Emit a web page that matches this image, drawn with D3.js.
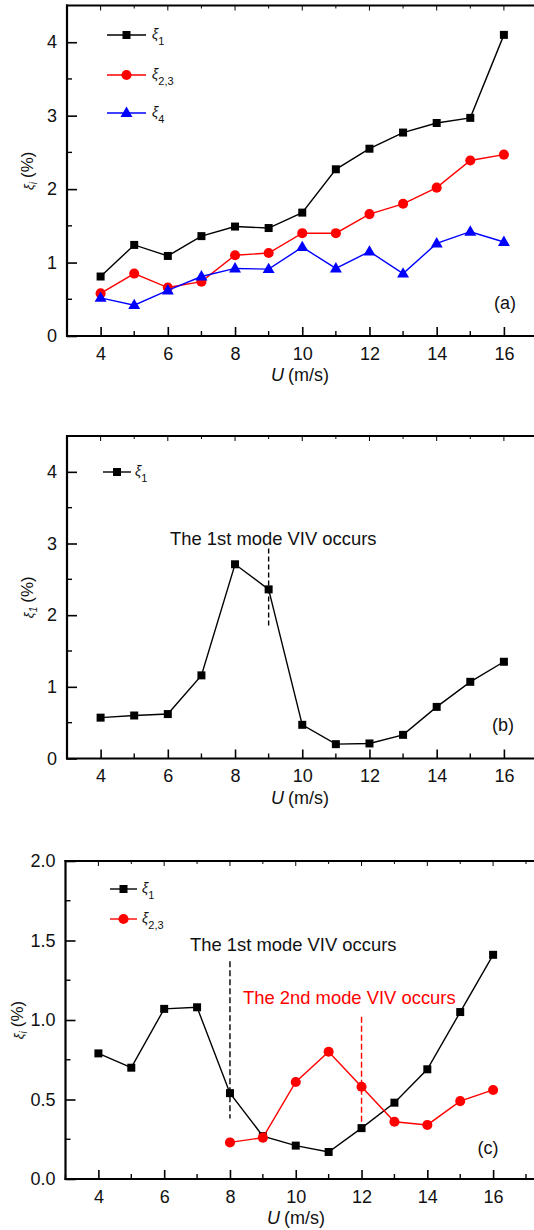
<!DOCTYPE html>
<html>
<head>
<meta charset="utf-8">
<script src="https://cdn.jsdelivr.net/npm/d3@7"></script>
<style>
  html, body { margin: 0; padding: 0; background: #fff; }
  svg { display: block; }
  text { font-family: "Liberation Sans", Arial, Helvetica, sans-serif; }
</style>
</head>
<body>
<svg id="chart" width="534" height="1230"></svg>
<script>
// Wind speed U (m/s)
const windSpeeds = [4, 5, 6, 7, 8, 9, 10, 11, 12, 13, 14, 15, 16];

// Panel (a): modal damping ratios (%)
const xiA1  = [0.81, 1.24, 1.09, 1.36, 1.49, 1.47, 1.68, 2.27, 2.55, 2.77, 2.90, 2.97, 4.10];
const xiA23 = [0.58, 0.85, 0.66, 0.74, 1.10, 1.13, 1.40, 1.40, 1.66, 1.80, 2.02, 2.39, 2.47];
const xiA4  = [0.52, 0.42, 0.62, 0.81, 0.92, 0.91, 1.21, 0.92, 1.15, 0.85, 1.26, 1.42, 1.28];

// Panel (b): first mode damping ratio (%)
const xiB1  = [0.57, 0.60, 0.62, 1.16, 2.71, 2.36, 0.47, 0.20, 0.21, 0.33, 0.72, 1.07, 1.35];

// Panel (c): damping ratios (%)
const xiC1  = [0.79, 0.70, 1.07, 1.08, 0.54, 0.27, 0.21, 0.17, 0.32, 0.48, 0.69, 1.05, 1.41];
const windSpeedsC23 = [8, 9, 10, 11, 12, 13, 14, 15, 16];
const xiC23 = [0.23, 0.26, 0.61, 0.80, 0.58, 0.36, 0.34, 0.49, 0.56];

// Axis ticks
const xMajorTicks = [4, 6, 8, 10, 12, 14, 16];
const xMinorTicks = [3, 4, 5, 6, 7, 8, 9, 10, 11, 12, 13, 14, 15, 16, 17];
const yTicksAB = [0, 1, 2, 3, 4];
const yMinorAB = [0.5, 1.5, 2.5, 3.5];
const yTicksC = [0.0, 0.5, 1.0, 1.5, 2.0];
const yMinorC = [0.25, 0.75, 1.25, 1.75];

const svg = d3.select("#chart");
const W = 534;

function drawPanel(cfg) {
  const x = d3.scaleLinear().domain([3, 17]).range([cfg.left, cfg.right]);
  const y = d3.scaleLinear().domain(cfg.yDomain).range([cfg.bottom, cfg.top]);
  const g = svg.append("g");

  // bottom axis
  const xAxis = d3.axisBottom(x).tickValues(xMajorTicks).tickSize(-9).tickPadding(11)
    .tickFormat(d3.format("d"));
  const gx = g.append("g").attr("transform", `translate(0,${cfg.bottom})`).call(xAxis);
  gx.select(".domain").remove();
  gx.selectAll(".tick line").attr("stroke", "#000").attr("stroke-width", 1.6);
  gx.selectAll(".tick text").attr("font-size", 18).attr("fill", "#111");
  // minor x ticks
  g.append("g").selectAll("line").data(xMinorTicks.filter(d => !xMajorTicks.includes(d)))
    .join("line")
    .attr("x1", d => x(d)).attr("x2", d => x(d))
    .attr("y1", cfg.bottom).attr("y2", cfg.bottom - 5)
    .attr("stroke", "#000").attr("stroke-width", 1.4);
  // top ticks
  g.append("g").selectAll("line").data(xMinorTicks)
    .join("line")
    .attr("x1", d => x(d)).attr("x2", d => x(d))
    .attr("y1", cfg.top).attr("y2", d => cfg.top + (xMajorTicks.includes(d) ? 5 : 3))
    .attr("stroke", "#000").attr("stroke-width", 1);

  // left axis
  const yAxis = d3.axisLeft(y).tickValues(cfg.yTicks).tickSize(-10).tickPadding(10)
    .tickFormat(cfg.yFormat);
  const gy = g.append("g").attr("transform", `translate(${cfg.left},0)`).call(yAxis);
  gy.select(".domain").remove();
  gy.selectAll(".tick line").attr("stroke", "#000").attr("stroke-width", 1.6);
  gy.selectAll(".tick text").attr("font-size", 18).attr("fill", "#111");
  g.append("g").selectAll("line").data(cfg.yMinor)
    .join("line")
    .attr("x1", cfg.left).attr("x2", cfg.left + 5)
    .attr("y1", d => y(d)).attr("y2", d => y(d))
    .attr("stroke", "#000").attr("stroke-width", 1.4);

  // frame (left, top, bottom)
  g.append("line").attr("x1", cfg.left).attr("x2", cfg.left)
    .attr("y1", cfg.top - 1).attr("y2", cfg.bottom + 1)
    .attr("stroke", "#000").attr("stroke-width", 2.2);
  g.append("line").attr("x1", cfg.left - 1).attr("x2", W)
    .attr("y1", cfg.bottom).attr("y2", cfg.bottom)
    .attr("stroke", "#000").attr("stroke-width", 2.2);
  g.append("line").attr("x1", cfg.left - 1).attr("x2", W)
    .attr("y1", cfg.top).attr("y2", cfg.top)
    .attr("stroke", "#000").attr("stroke-width", 2.2);

  // axis titles
  const xt = g.append("text").attr("x", cfg.xTitleX).attr("y", cfg.bottom + 45)
    .attr("text-anchor", "middle").attr("font-size", 18).attr("fill", "#111");
  xt.append("tspan").attr("font-style", "italic").text("U");
  xt.append("tspan").attr("dx", 4).text("(m/s)");

  const cy = (cfg.top + cfg.bottom) / 2;
  const yt = g.append("text")
    .attr("transform", `translate(${cfg.yTitleX},${cy}) rotate(-90)`)
    .attr("text-anchor", "middle").attr("fill", "#111");
  yt.append("tspan").attr("font-style", "italic").attr("font-size", 13).text("ξ");
  yt.append("tspan").attr("font-style", "italic").attr("font-size", 10).attr("dy", 4).text(cfg.ySub);
  yt.append("tspan").attr("font-size", 17).attr("dy", -4).attr("dx", 4).text("(%)");

  // panel letter
  g.append("text").attr("x", cfg.letterX).attr("y", cfg.letterY)
    .attr("text-anchor", "middle").attr("font-size", 18).attr("fill", "#111")
    .text(cfg.letter);

  return { g, x, y };
}

const line = (x, y) => d3.line().x(d => x(d[0])).y(d => y(d[1]));

function drawSeries(p, xs, ys, color, shape) {
  const pts = xs.map((v, i) => [v, ys[i]]);
  p.g.append("path").datum(pts).attr("d", line(p.x, p.y)(pts))
    .attr("fill", "none").attr("stroke", color).attr("stroke-width", 1.4);
  drawMarkers(p.g, pts.map(d => [p.x(d[0]), p.y(d[1])]), color, shape);
}

function drawMarkers(g, pix, color, shape) {
  const sym = shape === "square" ? d3.symbolSquare
    : shape === "circle" ? d3.symbolCircle : d3.symbolTriangle;
  const size = shape === "square" ? 64 : shape === "circle" ? 80 : 62;
  g.append("g").selectAll("path").data(pix).join("path")
    .attr("transform", d => `translate(${d[0]},${d[1] + (shape === "triangle" ? 0.5 : 0)})`)
    .attr("d", d3.symbol().type(sym).size(size))
    .attr("fill", color);
}

function legendItem(g, x1, x2, yy, color, shape, sub, textX) {
  g.append("line").attr("x1", x1).attr("x2", x2).attr("y1", yy).attr("y2", yy)
    .attr("stroke", color).attr("stroke-width", 1.4);
  drawMarkers(g, [[(x1 + x2) / 2, yy]], color, shape);
  const t = g.append("text").attr("x", textX).attr("y", yy + 4).attr("fill", "#111");
  t.append("tspan").attr("font-style", "italic").attr("font-size", 14).text("ξ");
  t.append("tspan").attr("font-size", 11).attr("dy", 6).text(sub);
}

// ---------- Panel (a)
const pa = drawPanel({
  left: 67, right: 537.5, top: 5.5, bottom: 336, yDomain: [0, 4.5],
  yTicks: yTicksAB, yMinor: yMinorAB, yFormat: d3.format("d"),
  ySub: "i", yTitleX: 33, xTitleX: 300, letter: "(a)", letterX: 505, letterY: 309
});
drawSeries(pa, windSpeeds, xiA1, "#000", "square");
drawSeries(pa, windSpeeds, xiA23, "#ff0000", "circle");
drawSeries(pa, windSpeeds, xiA4, "#0000ff", "triangle");
legendItem(pa.g, 107, 146, 35, "#000", "square", "1", 152);
legendItem(pa.g, 107, 146, 75, "#ff0000", "circle", "2,3", 152);
legendItem(pa.g, 107, 146, 113, "#0000ff", "triangle", "4", 152);

// ---------- Panel (b)
const pb = drawPanel({
  left: 67, right: 537.5, top: 436, bottom: 758.5, yDomain: [0, 4.5],
  yTicks: yTicksAB, yMinor: yMinorAB, yFormat: d3.format("d"),
  ySub: "1", yTitleX: 33, xTitleX: 300, letter: "(b)", letterX: 503, letterY: 731
});
// VIV marker for the first mode
pb.g.append("line")
  .attr("x1", pb.x(9)).attr("x2", pb.x(9))
  .attr("y1", pb.y(2.93)).attr("y2", pb.y(1.82))
  .attr("stroke", "#000").attr("stroke-width", 1.4).attr("stroke-dasharray", "5,3");
pb.g.append("text").attr("x", 170).attr("y", 545).attr("font-size", 18.4).attr("fill", "#111")
  .text("The 1st mode VIV occurs");
drawSeries(pb, windSpeeds, xiB1, "#000", "square");
legendItem(pb.g, 103, 131, 472, "#000", "square", "1", 135);

// ---------- Panel (c)
const pc = drawPanel({
  left: 65.5, right: 526, top: 861, bottom: 1179, yDomain: [0, 2],
  yTicks: yTicksC, yMinor: yMinorC, yFormat: d3.format(".1f"),
  ySub: "i", yTitleX: 23, xTitleX: 296, letter: "(c)", letterX: 488, letterY: 1154
});
pc.g.append("line")
  .attr("x1", pc.x(8)).attr("x2", pc.x(8))
  .attr("y1", pc.y(1.37)).attr("y2", pc.y(0.38))
  .attr("stroke", "#000").attr("stroke-width", 1.4).attr("stroke-dasharray", "6,3");
pc.g.append("line")
  .attr("x1", pc.x(12)).attr("x2", pc.x(12))
  .attr("y1", pc.y(1.02)).attr("y2", pc.y(0.33))
  .attr("stroke", "#ff0000").attr("stroke-width", 1.4).attr("stroke-dasharray", "6,3");
pc.g.append("text").attr("x", 190).attr("y", 951).attr("font-size", 18.4).attr("fill", "#111")
  .text("The 1st mode VIV occurs");
pc.g.append("text").attr("x", 243).attr("y", 1004).attr("font-size", 18.4).attr("fill", "#ff0000")
  .text("The 2nd mode VIV occurs");
drawSeries(pc, windSpeeds, xiC1, "#000", "square");
drawSeries(pc, windSpeedsC23, xiC23, "#ff0000", "circle");
legendItem(pc.g, 110, 137, 889, "#000", "square", "1", 142);
legendItem(pc.g, 110, 137, 919, "#ff0000", "circle", "2,3", 142);
</script>
</body>
</html>
